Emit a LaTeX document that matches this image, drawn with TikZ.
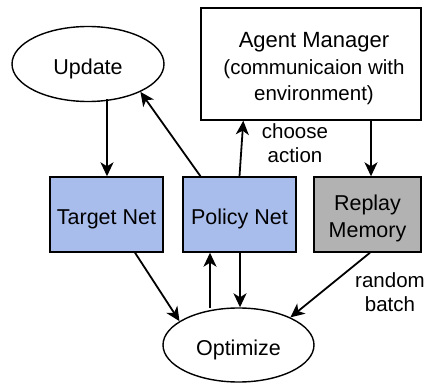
\documentclass[tikz,border=0pt]{standalone}
\usepackage{fontspec}
\setmainfont{Liberation Sans}
\usetikzlibrary{shapes.geometric,arrows.meta,calc}
\definecolor{netblue}{RGB}{169,189,237}
\definecolor{memgray}{RGB}{178,178,178}
\begin{document}
\begin{tikzpicture}[x=1pt,y=-1pt,
  lbl/.style={font=\fontsize{20.5}{24.5}\selectfont, align=center, inner sep=0},
  oval/.style={draw, ellipse, line width=1.4pt, inner sep=0, minimum width=152pt, minimum height=75pt,
    font=\fontsize{21.5}{26}\selectfont, text height=21pt, text depth=0pt},
  netbox/.style={draw, line width=1.4pt, fill=netblue, inner sep=0, minimum width=113pt, minimum height=75pt,
    font=\fontsize{21.5}{26.5}\selectfont, align=center, text height=21pt, text depth=0pt},
  arr/.style={line width=1.8pt, -{Stealth[length=14pt,width=13pt,inset=4pt]}}]
  \useasboundingbox (0,0) rectangle (424,385);
  % nodes
  \node[oval] (up) at (88,64) {Update};
  \node[draw, line width=1.4pt, inner sep=0, minimum width=220pt, minimum height=112pt] (am) at (311,64) {};
  \node[align=center, inner sep=0, font=\fontsize{20.5}{26.5}\selectfont, text height=74pt, text depth=0pt] (amtext) at (314,64)
    {{\fontsize{22}{26.5}\selectfont Agent Manager}\\(communicaion with\\environment)};
  \node[netbox] (tn) at (106.5,214.5) {Target Net};
  \node[netbox] (pn) at (239.5,214.5) {Policy Net};
  \node[netbox, fill=memgray, minimum width=107pt, text height=46pt] (rm) at (367.5,214.5) {Replay\\Memory};
  \node[oval, minimum width=151pt, minimum height=74pt] (opt) at (238.5,345) {Optimize};
  % labels
  \node[lbl] (ca) at (295,143) {choose\\action};
  \node[lbl] (rb) at (390,292) {random\\batch};
  % connectors
  \coordinate (tntop) at ([xshift=0.5pt]tn.north);
  \draw[arr] ([yshift=3pt]tntop |- up.south) -- (tntop);
  \draw[arr] ([xshift=-39pt]pn.north) -- (up.-28);
  \draw[arr] (pn.north) -- ([xshift=43pt]am.south west);
  \coordinate (rmtop) at ([xshift=3.5pt]rm.north);
  \draw[arr] (rmtop |- am.south) -- (rmtop);
  \draw[arr] ([xshift=28.5pt]tn.south) -- (opt.158);
  \coordinate (upx) at ([xshift=-29.5pt]pn.south);
  \draw[arr] ([yshift=-1pt]upx |- opt.north) -- (upx);
  \coordinate (dnx) at ([xshift=0.5pt]pn.south);
  \draw[arr] (dnx) -- (dnx |- opt.north);
  \draw[arr] ([xshift=2.5pt]rm.south) -- (opt.28);
\end{tikzpicture}
\end{document}
